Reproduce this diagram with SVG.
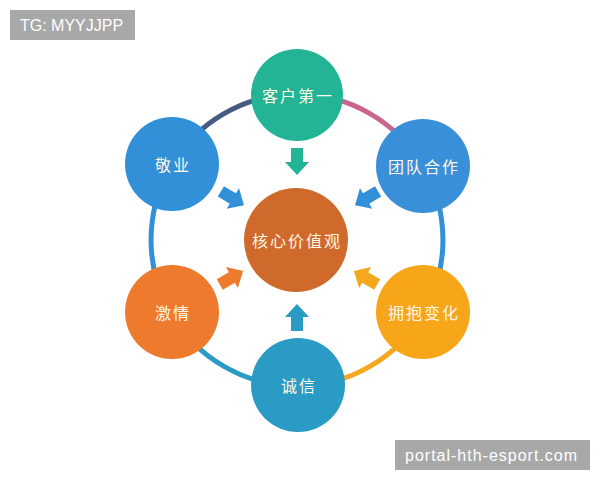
<svg xmlns="http://www.w3.org/2000/svg" width="600" height="480" viewBox="0 0 600 480">
<defs>
<style>
.ring{fill:none;stroke-width:5;stroke-linecap:round}
.lbl{font-family:"Noto Sans CJK SC","Noto Sans CJK JP",sans-serif;font-size:16px;fill:#fff8e6;text-anchor:middle;dominant-baseline:central;letter-spacing:2px}
.tag{font-family:"Liberation Sans",Arial,sans-serif;font-size:16px;fill:#ffffff}
</style>
<path id="arw" d="M-13,-6 L1,-6 L1,-12 L14,0 L1,12 L1,6 L-13,6 Z"/>
</defs>
<rect width="600" height="480" fill="#ffffff"/>
<g id="connectors">
<path class="ring" stroke="#465a82" d="M170.6,167 A146,146 0 0 1 297,94"/>
<path class="ring" stroke="#c9668e" d="M297,94 A146,146 0 0 1 423.4,167"/>
<path class="ring" stroke="#3190d8" d="M423.4,167 A146,146 0 0 1 423.4,313"/>
<path class="ring" stroke="#f5a81e" d="M423.4,313 A146,146 0 0 1 297,386"/>
<path class="ring" stroke="#2a9bc4" d="M297,386 A146,146 0 0 1 170.6,313"/>
<path class="ring" stroke="#3190d8" d="M170.6,313 A146,146 0 0 1 170.6,167"/>
<use href="#arw" fill="#22b495" transform="translate(297,161) rotate(90)"/>
<use href="#arw" fill="#3190d8" transform="translate(232,198) rotate(31)"/>
<use href="#arw" fill="#3190d8" transform="translate(367,198) rotate(149)"/>
<use href="#arw" fill="#ee7b2d" transform="translate(231,278) rotate(-30)"/>
<use href="#arw" fill="#f5a81e" transform="translate(366,278) rotate(-150)"/>
<use href="#arw" fill="#2a9bc4" transform="translate(297,318) rotate(-90)"/>
</g>
<g id="center"><circle cx="296" cy="240" r="52" fill="#d06a2c"/><text class="lbl" x="297" y="240" font-size="17">核心价值观</text></g>
<g id="n1"><circle cx="297" cy="95" r="46" fill="#22b495"/><text class="lbl" x="298" y="95">客户第一</text></g>
<g id="n2"><circle cx="423" cy="166" r="47" fill="#3a8fd9"/><text class="lbl" x="424" y="166">团队合作</text></g>
<g id="n3"><circle cx="423" cy="312" r="47" fill="#f7a61a"/><text class="lbl" x="424" y="312">拥抱变化</text></g>
<g id="n4"><circle cx="298" cy="385" r="47" fill="#2a9bc4"/><text class="lbl" x="299" y="385" letter-spacing="4px">诚信</text></g>
<g id="n5"><circle cx="172" cy="312" r="47" fill="#ee7b2d"/><text class="lbl" x="173" y="312" letter-spacing="4px">激情</text></g>
<g id="n6"><circle cx="172" cy="164" r="47" fill="#3190d8"/><text class="lbl" x="173" y="164" letter-spacing="5px">敬业</text></g>
<g id="tag1"><rect x="10" y="10" width="125" height="30" fill="#a8a8a8"/><text class="tag" x="20" y="31">TG: MYYJJPP</text></g>
<g id="tag2"><rect x="395" y="440" width="195" height="30" fill="#a8a8a8"/><text class="tag" x="405" y="461" font-size="17" letter-spacing="1px">portal-hth-esport.com</text></g>
</svg>
